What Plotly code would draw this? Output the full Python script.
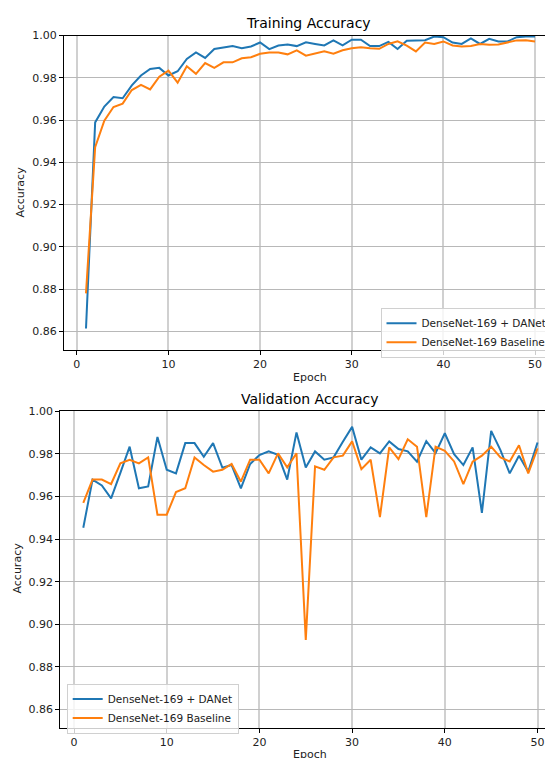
import plotly.graph_objects as go

epochs = list(range(1, 51))

train_danet = [0.8614, 0.9589, 0.9664, 0.9709, 0.9703, 0.9764, 0.9811, 0.9842, 0.9847, 0.9811,
               0.9831, 0.9889, 0.9920, 0.9894, 0.9936, 0.9944, 0.9950, 0.9940, 0.9948, 0.9967,
               0.9936, 0.9953, 0.9958, 0.9950, 0.9968, 0.9960, 0.9953, 0.9977, 0.9953, 0.9980,
               0.9980, 0.9950, 0.9950, 0.9970, 0.9936, 0.9975, 0.9978, 0.9978, 0.9995, 0.9992,
               0.9967, 0.9960, 0.9986, 0.9960, 0.9984, 0.9972, 0.9972, 0.9992, 0.9995, 0.9995]

train_base = [0.8780, 0.9472, 0.9597, 0.9662, 0.9678, 0.9742, 0.9767, 0.9745, 0.9805, 0.9834,
              0.9777, 0.9855, 0.9819, 0.9870, 0.9847, 0.9873, 0.9873, 0.9892, 0.9897, 0.9914,
              0.9920, 0.9920, 0.9911, 0.9930, 0.9905, 0.9914, 0.9925, 0.9914, 0.9930, 0.9940,
              0.9945, 0.9940, 0.9937, 0.9960, 0.9973, 0.9952, 0.9925, 0.9967, 0.9960, 0.9972,
              0.9953, 0.9948, 0.9950, 0.9960, 0.9956, 0.9958, 0.9967, 0.9977, 0.9978, 0.9972]

val_danet = [0.9453, 0.9679, 0.9651, 0.9591, 0.9710, 0.9833, 0.9638, 0.9647, 0.9879, 0.9725,
             0.9708, 0.9850, 0.9850, 0.9786, 0.9850, 0.9735, 0.9747, 0.9638, 0.9752, 0.9794,
             0.9811, 0.9795, 0.9679, 0.9900, 0.9736, 0.9811, 0.9772, 0.9783, 0.9856, 0.9926,
             0.9772, 0.9830, 0.9802, 0.9858, 0.9822, 0.9811, 0.9763, 0.9859, 0.9803, 0.9896,
             0.9798, 0.9747, 0.9830, 0.9523, 0.9907, 0.9817, 0.9708, 0.9791, 0.9716, 0.9853]

val_base = [0.9570, 0.9679, 0.9679, 0.9658, 0.9755, 0.9772, 0.9755, 0.9783, 0.9514, 0.9514,
            0.9620, 0.9638, 0.9783, 0.9747, 0.9716, 0.9725, 0.9752, 0.9669, 0.9772, 0.9772,
            0.9708, 0.9802, 0.9736, 0.9802, 0.8927, 0.9741, 0.9725, 0.9783, 0.9791, 0.9858,
            0.9728, 0.9772, 0.9503, 0.9830, 0.9775, 0.9868, 0.9833, 0.9503, 0.9833, 0.9814,
            0.9764, 0.9658, 0.9763, 0.9791, 0.9833, 0.9783, 0.9764, 0.9840, 0.9708, 0.9825]

series_names = ["DenseNet-169 + DANet", "DenseNet-169 Baseline"]
y_ticks = [0.86, 0.88, 0.90, 0.92, 0.94, 0.96, 0.98, 1.00]
x_ticks = [0, 10, 20, 30, 40, 50]

# page has an 8px body margin; figure sized to end exactly at the window edge
OFF = 8
W, H = 553 - OFF, 758 - OFF
BLUE, ORANGE = "#1f77b4", "#ff7f0e"
FONT = "DejaVu Sans"


def px(x):
    return (x - OFF) / W


def py(y):
    return (H - (y - OFF)) / H


fig = go.Figure()
fig.add_trace(go.Scatter(x=epochs, y=train_danet, mode="lines", name=series_names[0],
                         line=dict(color=BLUE, width=2), xaxis="x", yaxis="y", legend="legend"))
fig.add_trace(go.Scatter(x=epochs, y=train_base, mode="lines", name=series_names[1],
                         line=dict(color=ORANGE, width=2), xaxis="x", yaxis="y", legend="legend"))
fig.add_trace(go.Scatter(x=epochs, y=val_danet, mode="lines", name=series_names[0],
                         line=dict(color=BLUE, width=2), xaxis="x2", yaxis="y2", legend="legend2"))
fig.add_trace(go.Scatter(x=epochs, y=val_base, mode="lines", name=series_names[1],
                         line=dict(color=ORANGE, width=2), xaxis="x2", yaxis="y2", legend="legend2"))


def xax(domain, rng, anchor):
    return dict(domain=domain, range=rng, anchor=anchor, tickvals=x_ticks,
                ticktext=[str(t) for t in x_ticks], showgrid=True, gridcolor="#d0d0d0",
                gridwidth=1.5, zeroline=False, showline=True, linecolor="#000", linewidth=1,
                mirror=True, ticks="outside", ticklen=4, tickcolor="#000",
                tickfont=dict(family=FONT, size=11, color="#222"))


def yax(domain, rng, anchor):
    return dict(domain=domain, range=rng, anchor=anchor, tickvals=y_ticks,
                ticktext=[f"{t:.2f}" for t in y_ticks], showgrid=True, gridcolor="#b8b8b8",
                gridwidth=1, zeroline=False, showline=True, linecolor="#000", linewidth=1,
                ticks="outside", ticklen=4, tickcolor="#000",
                tickfont=dict(family=FONT, size=11, color="#222"))


legend_common = dict(bgcolor="rgba(255,255,255,0.8)", bordercolor="#d0d0d0", borderwidth=1,
                     font=dict(family=FONT, size=10.5, color="#222"),
                     yanchor="top", tracegroupgap=0, itemwidth=30)


def label(text, x, y, size=11, angle=0, color="#222"):
    return dict(text=text, x=px(x), y=py(y), xref="paper", yref="paper", showarrow=False,
                textangle=angle, font=dict(family=FONT, size=size, color=color),
                xanchor="center", yanchor="middle")


fig.update_layout(
    width=W, height=H,
    margin=dict(l=0, r=0, t=0, b=0),
    paper_bgcolor="white", plot_bgcolor="white",
    showlegend=True,
    xaxis=xax([px(64), 1.0], [-1.40, 51.96], "y"),
    yaxis=yax([py(346.7), py(29.7)], [0.8512, 1.0], "x"),
    xaxis2=xax([px(60.3), 1.0], [-1.48, 51.67], "y2"),
    yaxis2=yax([py(727.3), py(408.3)], [0.8516, 1.0], "x2"),
    legend=dict(x=px(552.5), y=py(304), xanchor="right", **legend_common),
    legend2=dict(x=px(66.7), y=py(683), xanchor="left", **legend_common),
    annotations=[
        label("Training Accuracy", 308, 17, size=14, color="#000"),
        label("Validation Accuracy", 310, 396, size=14, color="#000"),
        label("Epoch", 310, 374),
        label("Epoch", 310, 754),
        label("Accuracy", 21, 188, angle=-90),
        label("Accuracy", 18, 567, angle=-90),
    ],
)

fig.write_html("out.html")
